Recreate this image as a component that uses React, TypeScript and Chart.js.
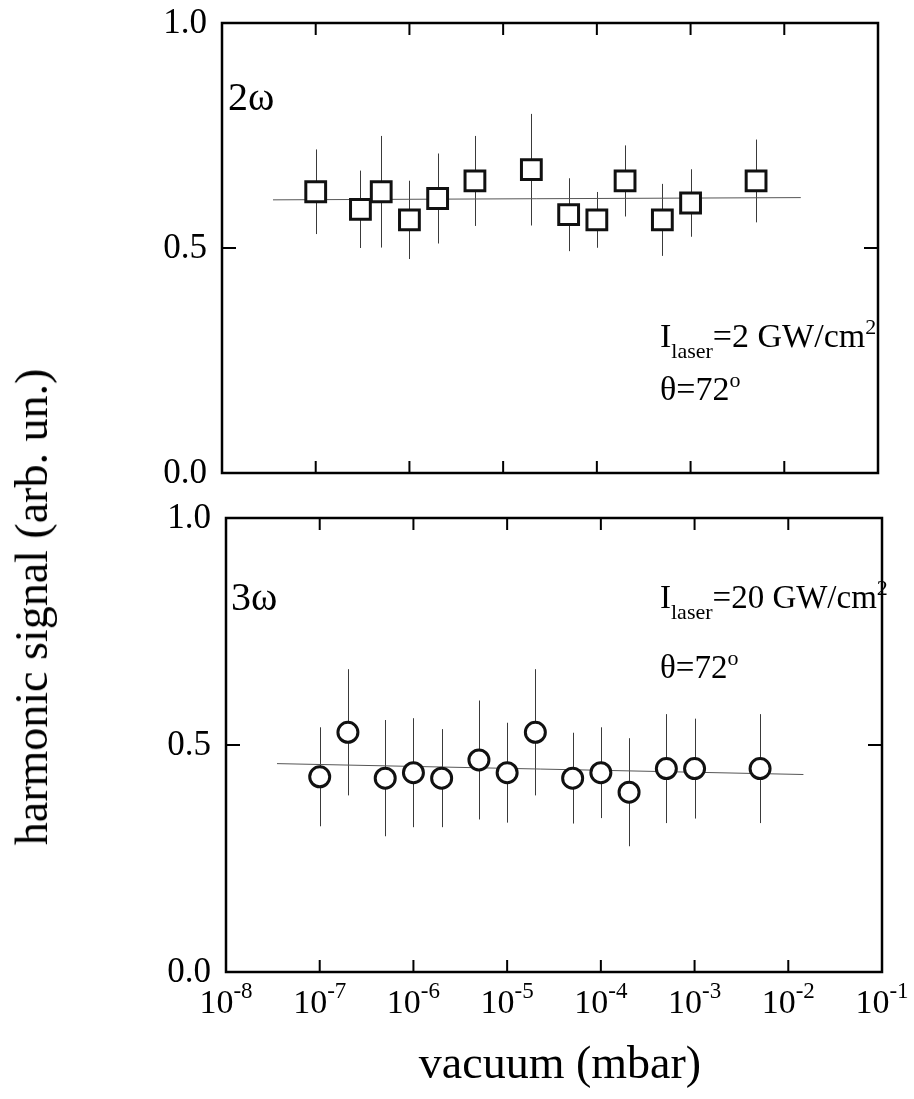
import React, { useEffect, useRef } from 'react';
import { Chart, registerables } from 'chart.js';

Chart.register(...registerables);

const FONT = '"Liberation Serif", "Times New Roman", serif';

// ---- Top panel: 2ω (squares) ----
const pressure2w = [1e-7, 3e-7, 5e-7, 1e-6, 2e-6, 5e-6, 2e-5, 5e-5, 1e-4, 2e-4, 5e-4, 1e-3, 5e-3];
const signal2w = [0.625, 0.586, 0.625, 0.5625, 0.61, 0.649, 0.674, 0.574, 0.5625, 0.649, 0.5625, 0.6, 0.649];
const error2w = [0.094, 0.086, 0.124, 0.087, 0.1, 0.1, 0.124, 0.081, 0.062, 0.079, 0.08, 0.075, 0.092];
const fitX2w = [3.5e-8, 1.5e-2];
const fitY2w = [0.607, 0.612];

// ---- Bottom panel: 3ω (circles) ----
const pressure3w = [1e-7, 2e-7, 5e-7, 1e-6, 2e-6, 5e-6, 1e-5, 2e-5, 5e-5, 1e-4, 2e-4, 5e-4, 1e-3, 5e-3];
const signal3w = [0.43, 0.528, 0.427, 0.439, 0.427, 0.467, 0.439, 0.528, 0.427, 0.439, 0.396, 0.448, 0.448, 0.448];
const error3w = [0.109, 0.139, 0.128, 0.12, 0.108, 0.131, 0.11, 0.139, 0.1, 0.1, 0.119, 0.12, 0.11, 0.12];
const fitX3w = [3.5e-8, 1.45e-2];
const fitY3w = [0.459, 0.435];

// ---- Axes ----
const yTickValues = [0, 0.5, 1];
const yTickLabels = ['0.0', '0.5', '1.0'];
const yInnerTicks = [0.5];
const xTickExponents = [-8, -7, -6, -5, -4, -3, -2, -1];
const xTickLabelBase = '10';
const xInnerTicks = [1e-7, 1e-6, 1e-5, 1e-4, 1e-3, 1e-2];
const xMin = 1e-8;
const xMax = 1e-1;

const panelPlugin = {
  id: 'panelDecor',
  beforeDatasetsDraw(chart: any) {
    const ctx = chart.ctx;
    const xs = chart.scales.x;
    const ys = chart.scales.y;
    ctx.save();
    ctx.strokeStyle = '#3a3a3a';
    ctx.lineWidth = 1;
    chart.data.datasets.forEach((ds: any) => {
      if (!ds.errors) return;
      ds.data.forEach((p: any, j: number) => {
        const px = Math.round(xs.getPixelForValue(p.x)) + 0.5;
        ctx.beginPath();
        ctx.moveTo(px, ys.getPixelForValue(p.y + ds.errors[j]));
        ctx.lineTo(px, ys.getPixelForValue(p.y - ds.errors[j]));
        ctx.stroke();
      });
    });
    ctx.restore();
  },
  afterDraw(chart: any, _args: any, opts: any) {
    const ctx = chart.ctx;
    const a = chart.chartArea;
    const xs = chart.scales.x;
    const ys = chart.scales.y;
    ctx.save();
    ctx.strokeStyle = '#000';
    ctx.lineWidth = 2.5;
    ctx.strokeRect(a.left, a.top, a.right - a.left, a.bottom - a.top);
    ctx.lineWidth = 2;
    const tl = 12;
    xInnerTicks.forEach((v) => {
      const px = xs.getPixelForValue(v);
      ctx.beginPath();
      ctx.moveTo(px, a.bottom);
      ctx.lineTo(px, a.bottom - tl);
      ctx.moveTo(px, a.top);
      ctx.lineTo(px, a.top + tl);
      ctx.stroke();
    });
    yInnerTicks.forEach((v) => {
      const py = ys.getPixelForValue(v);
      ctx.beginPath();
      ctx.moveTo(a.left, py);
      ctx.lineTo(a.left + 14, py);
      ctx.moveTo(a.right, py);
      ctx.lineTo(a.right - 14, py);
      ctx.stroke();
    });
    // y tick labels
    ctx.fillStyle = '#000';
    ctx.font = `35px ${FONT}`;
    ctx.textAlign = 'right';
    ctx.textBaseline = 'middle';
    yTickValues.forEach((v, i) => {
      ctx.fillText(yTickLabels[i], a.left - 15, ys.getPixelForValue(v) + 1);
    });
    if (opts && opts.xLabels) {
      ctx.textBaseline = 'alphabetic';
      ctx.textAlign = 'left';
      const base = a.bottom + 41;
      xTickExponents.forEach((e) => {
        const px = xs.getPixelForValue(Math.pow(10, e));
        ctx.font = `34px ${FONT}`;
        const w1 = ctx.measureText(xTickLabelBase).width;
        ctx.font = `23px ${FONT}`;
        const expText = String(e);
        const w2 = ctx.measureText(expText).width;
        const x0 = px - (w1 + w2) / 2;
        ctx.font = `34px ${FONT}`;
        ctx.fillText(xTickLabelBase, x0, base);
        ctx.font = `23px ${FONT}`;
        ctx.fillText(expText, x0 + w1, base - 15);
      });
    }
    ctx.restore();
  },
};

function makeConfig(
  px: number[],
  py: number[],
  err: number[],
  fx: number[],
  fy: number[],
  pointStyle: string,
  radius: number,
  padding: any,
  xLabels: boolean
) {
  return {
    type: 'scatter',
    data: {
      datasets: [
        {
          data: px.map((x, i) => ({ x, y: py[i] })),
          errors: err,
          pointStyle,
          pointRadius: radius,
          pointBorderWidth: 3,
          borderColor: '#111',
          backgroundColor: '#fff',
          pointBackgroundColor: '#fff',
          pointBorderColor: '#111',
          showLine: false,
        },
        {
          data: fx.map((x, i) => ({ x, y: fy[i] })),
          showLine: true,
          pointRadius: 0,
          borderWidth: 1,
          borderColor: '#555',
          fill: false,
        },
      ],
    },
    options: {
      responsive: false,
      animation: false,
      events: [],
      layout: { padding },
      plugins: {
        legend: { display: false },
        tooltip: { enabled: false },
        panelDecor: { xLabels },
      },
      scales: {
        x: { type: 'logarithmic', min: xMin, max: xMax, display: false },
        y: { type: 'linear', min: 0, max: 1, display: false },
      },
    },
    plugins: [panelPlugin],
  } as any;
}

function Panel({ top, height, config }: { top: number; height: number; config: any }) {
  const ref = useRef<HTMLCanvasElement | null>(null);
  useEffect(() => {
    if (!ref.current) return;
    const c = new Chart(ref.current, config);
    return () => c.destroy();
  }, []);
  return (
    <div style={{ position: 'absolute', left: 0, top, width: 914, height }}>
      <canvas ref={ref} width={914} height={height} style={{ display: 'block' }} />
    </div>
  );
}

function Txt({ x, y, size, children }: { x: number; y: number; size: number; children: any }) {
  // y is the baseline
  return (
    <div
      style={{
        position: 'absolute',
        left: x,
        top: y - size * 0.8375,
        fontFamily: FONT,
        fontSize: size,
        lineHeight: `${size}px`,
        whiteSpace: 'nowrap',
        color: '#000',
      }}
    >
      {children}
    </div>
  );
}

const sub = (t: string) => (
  <span style={{ fontSize: 22, position: 'relative', top: 11 }}>{t}</span>
);
const sup = (t: string) => (
  <span style={{ fontSize: 22, position: 'relative', top: -13 }}>{t}</span>
);

export default function App() {
  const topCfg = makeConfig(
    pressure2w, signal2w, error2w, fitX2w, fitY2w, 'rect', 14,
    { left: 222, right: 36, top: 23, bottom: 27 }, false
  );
  const botCfg = makeConfig(
    pressure3w, signal3w, error3w, fitX3w, fitY3w, 'circle', 10,
    { left: 226, right: 32, top: 18, bottom: 127 }, true
  );
  return (
    <div style={{ position: 'absolute', left: 0, top: 0, width: 914, height: 1099, overflow: 'hidden', background: '#fff' }}>
      <Panel top={0} height={500} config={topCfg} />
      <Panel top={500} height={599} config={botCfg} />

      <Txt x={228} y={110} size={40}>2ω</Txt>
      <Txt x={660} y={347} size={34}>I{sub('laser')}=2 GW/cm{sup('2')}</Txt>
      <Txt x={660} y={400} size={34}>θ=72{sup('o')}</Txt>

      <Txt x={231} y={610} size={40}>3ω</Txt>
      <Txt x={660} y={609} size={33}>I{sub('laser')}=20 GW/cm{sup('2')}</Txt>
      <Txt x={660} y={679} size={33}>θ=72{sup('o')}</Txt>

      <div
        style={{
          position: 'absolute',
          left: 31.5,
          top: 607,
          transform: 'translate(-50%, -50%) rotate(-90deg)',
          fontFamily: FONT,
          fontSize: 46,
          lineHeight: '46px',
          whiteSpace: 'nowrap',
          color: '#000',
        }}
      >
        harmonic signal (arb. un.)
      </div>
      <div
        style={{
          position: 'absolute',
          left: 560,
          top: 1079 - 46 * 0.8375,
          transform: 'translateX(-50%)',
          fontFamily: FONT,
          fontSize: 46,
          lineHeight: '46px',
          whiteSpace: 'nowrap',
          color: '#000',
        }}
      >
        vacuum (mbar)
      </div>
    </div>
  );
}
